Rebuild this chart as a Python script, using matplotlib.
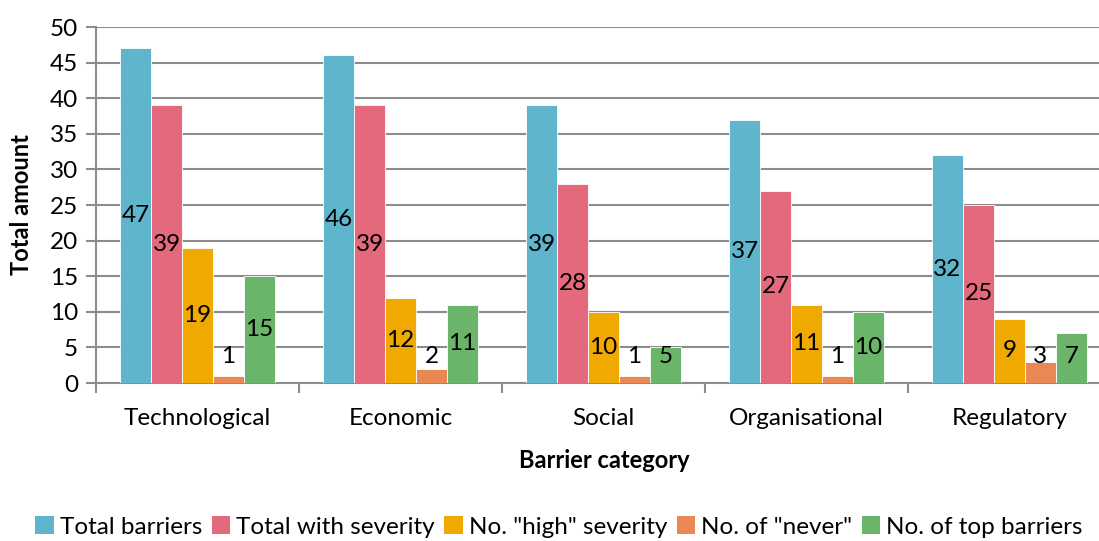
import matplotlib
matplotlib.use("Agg")
import matplotlib.pyplot as plt
import numpy as np
from matplotlib.patches import Patch

plt.rcParams['font.family'] = ['Lato', 'DejaVu Sans']

categories = ["Technological", "Economic", "Social", "Organisational", "Regulatory"]
series_names = ["Total barriers", "Total with severity", 'No. "high" severity',
                'No. of "never"', "No. of top barriers"]
total_barriers = [47, 46, 39, 37, 32]
total_with_severity = [39, 39, 28, 27, 25]
high_severity = [19, 12, 10, 11, 9]
never_count = [1, 2, 1, 1, 3]
top_barriers = [15, 11, 5, 10, 7]
series_values = [total_barriers, total_with_severity, high_severity, never_count, top_barriers]
colors = ["#5FB5CC", "#E5697D", "#F0A900", "#E98853", "#6BB56B"]

W, H = 1099, 541
fig = plt.figure(figsize=(W / 100, H / 100), dpi=100)
# plot area runs past the right edge of the canvas
ax = fig.add_axes([96 / W, 158 / H, (1111 - 96) / W, (383 - 27) / H])

x = np.arange(len(categories))
bw = 0.1527
grid_c = "#8C8C8C"
fs = 17.5
for i, (vals, c) in enumerate(zip(series_values, colors)):
    pos = x + (i - 2) * bw
    ax.bar(pos, vals, width=bw, color=c, edgecolor="white", linewidth=0.6, zorder=3)
    for px, v in zip(pos, vals):
        ax.text(px, max(v / 2, 3.75), str(v), ha="center", va="center",
                fontsize=fs, color="black", zorder=4)

ax.set_xlim(-0.5, len(categories) - 0.5)
ax.set_ylim(0, 50)
ax.set_yticks(range(0, 51, 5))
ax.yaxis.grid(True, color=grid_c, linewidth=1.5, zorder=0)
ax.set_axisbelow(True)

ax.set_xticks(x)
ax.set_xticklabels(categories, fontsize=fs)
ax.set_xticks(np.arange(-0.5, len(categories), 1), minor=True)
ax.tick_params(axis="x", which="major", length=0, pad=18)
ax.tick_params(axis="x", which="minor", length=7, width=1.5, color=grid_c)
ax.tick_params(axis="y", labelsize=fs, length=7, width=1.5, color=grid_c, pad=6)

for s in ["top", "right"]:
    ax.spines[s].set_visible(False)
for s in ["left", "bottom"]:
    ax.spines[s].set_color(grid_c)
    ax.spines[s].set_linewidth(1.5)

ax.set_ylabel("Total amount", fontsize=17, fontweight="bold")
ax.yaxis.set_label_coords(-(96 - 22) / (1111 - 96), 0.5)
ax.set_xlabel("Barrier category", fontsize=17, fontweight="bold")
ax.xaxis.set_label_coords((604 - 96) / (1111 - 96), -(460 - 383) / (383 - 27))
ax.xaxis.label.set_va("center")
ax.yaxis.label.set_va("center")

handles = [Patch(facecolor=c, edgecolor="none") for c in colors]
fig.legend(handles, series_names, loc="center", bbox_to_anchor=(559 / W, 1 - 527 / H),
           ncol=5, frameon=False, fontsize=fs, handlelength=0.75, handleheight=0.75,
           handletextpad=0.25, columnspacing=0.4, borderaxespad=0)

fig.savefig("out.png", dpi=100)
